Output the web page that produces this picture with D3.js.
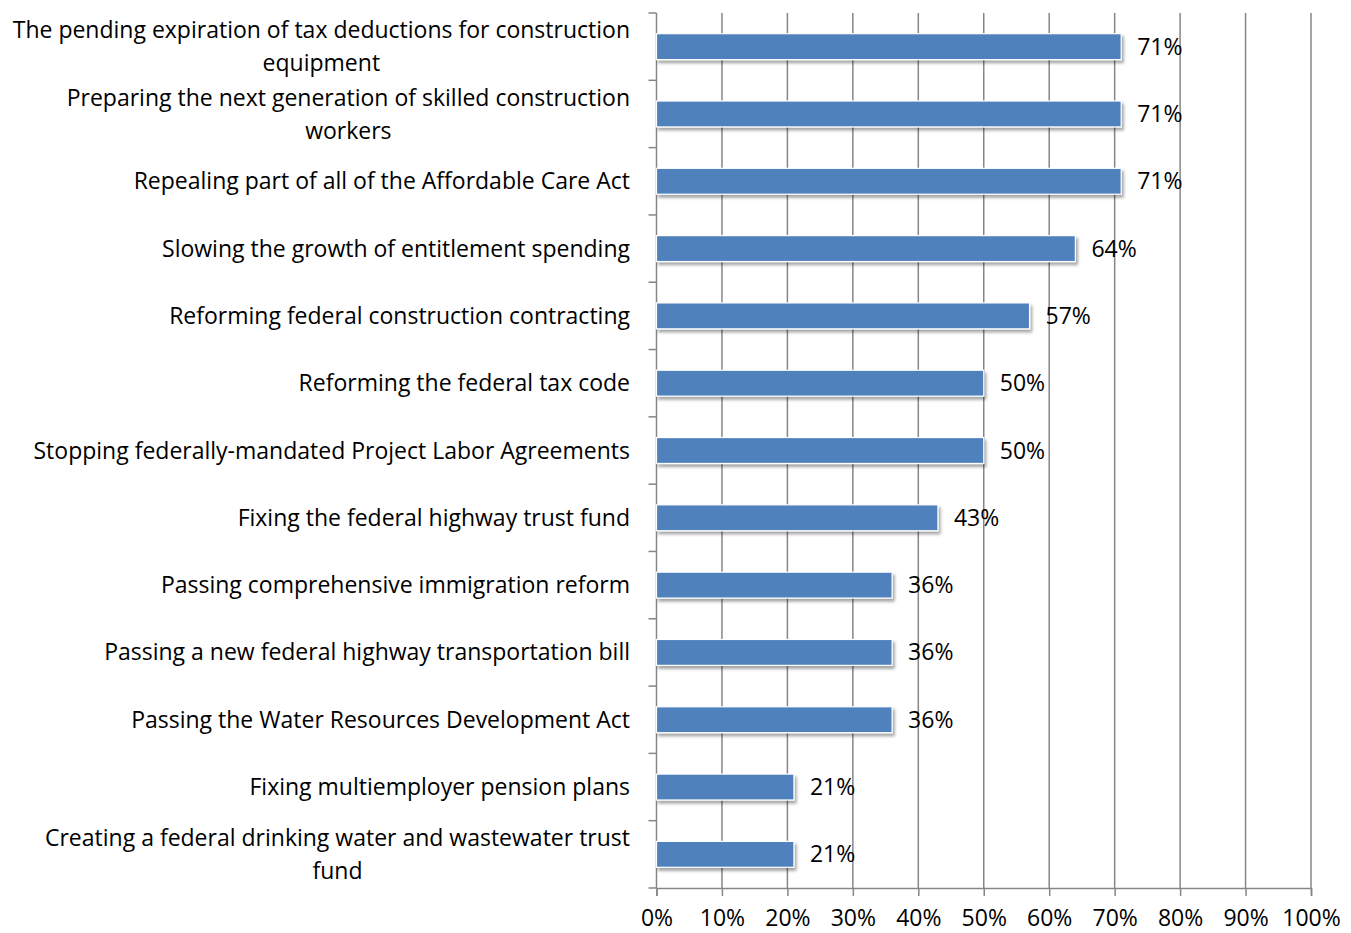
<!DOCTYPE html>
<html>
<head>
<meta charset="utf-8">
<script src="https://cdn.jsdelivr.net/npm/d3@7"></script>
<style>
  html, body { margin: 0; padding: 0; background: #fff; }
  svg { display: block; }
  text { font-family: "Open Sans", sans-serif; fill: #000; }
</style>
</head>
<body>
<svg id="chart" width="1351" height="933"></svg>
<script>
// Share of respondents naming each issue as a priority
const categories = [
  "The pending expiration of tax deductions for construction\nequipment",
  "Preparing the next generation of skilled construction\nworkers",
  "Repealing part of all of the Affordable Care Act",
  "Slowing the growth of entitlement spending",
  "Reforming federal construction contracting",
  "Reforming the federal tax code",
  "Stopping federally-mandated Project Labor Agreements",
  "Fixing the federal highway trust fund",
  "Passing comprehensive immigration reform",
  "Passing a new federal highway transportation bill",
  "Passing the Water Resources Development Act",
  "Fixing multiemployer pension plans",
  "Creating a federal drinking water and wastewater trust\nfund"
];
const values = [0.71, 0.71, 0.71, 0.64, 0.57, 0.50, 0.50, 0.43, 0.36, 0.36, 0.36, 0.21, 0.21];
const xTicks = [0, 0.1, 0.2, 0.3, 0.4, 0.5, 0.6, 0.7, 0.8, 0.9, 1.0];

const margin = { left: 656.5, right: 40, top: 13, bottom: 45 };
const W = 1351, H = 933;
const fontSize = 23;
const svg = d3.select("#chart");

const x = d3.scaleLinear().domain([0, 1]).range([margin.left, W - margin.right]);
const y = d3.scaleBand().domain(categories).range([margin.top, H - margin.bottom])
  .paddingInner(0.615).paddingOuter(0.3075);

const fmt = d3.format(".0%");
const gridColor = "#868686";

// Soft shadow under bars
const defs = svg.append("defs");
const f = defs.append("filter").attr("id", "shadow")
  .attr("x", "-5%").attr("y", "-30%").attr("width", "115%").attr("height", "180%");
f.append("feDropShadow").attr("dx", 2).attr("dy", 3).attr("stdDeviation", 1.8)
  .attr("flood-color", "#000").attr("flood-opacity", 0.35);

// Vertical gridlines
svg.append("g").selectAll("line").data(xTicks.slice(1)).join("line")
  .attr("x1", d => x(d)).attr("x2", d => x(d))
  .attr("y1", margin.top).attr("y2", H - margin.bottom)
  .attr("stroke", gridColor).attr("stroke-width", 1.5);

// X axis
const xAxis = d3.axisBottom(x).tickValues(xTicks).tickFormat(fmt).tickSize(8).tickPadding(13.5);
const gx = svg.append("g").attr("transform", `translate(0,${H - margin.bottom})`).call(xAxis);
gx.select(".domain").attr("stroke", gridColor).attr("stroke-width", 1.5);
gx.selectAll(".tick line").attr("stroke", gridColor).attr("stroke-width", 1.5);
gx.selectAll(".tick text").attr("font-size", fontSize).attr("font-family", "Open Sans, sans-serif").attr("fill", "#000");

// Y axis line and boundary ticks
const step = y.step();
const bounds = d3.range(categories.length + 1).map(i => margin.top + i * step);
svg.append("line").attr("x1", x(0)).attr("x2", x(0))
  .attr("y1", margin.top).attr("y2", H - margin.bottom)
  .attr("stroke", gridColor).attr("stroke-width", 1.5);
svg.append("g").selectAll("line").data(bounds).join("line")
  .attr("x1", x(0) - 8).attr("x2", x(0))
  .attr("y1", d => d).attr("y2", d => d)
  .attr("stroke", gridColor).attr("stroke-width", 1.5);

// Bars
svg.append("g").selectAll("rect").data(values).join("rect")
  .attr("x", x(0))
  .attr("y", (d, i) => y(categories[i]))
  .attr("width", d => x(d) - x(0))
  .attr("height", y.bandwidth())
  .attr("fill", "#4f81bd")
  .attr("stroke", "#fff").attr("stroke-width", 1.2)
  .attr("filter", "url(#shadow)");

// Value labels
svg.append("g").selectAll("text").data(values).join("text")
  .attr("x", d => x(d) + 16)
  .attr("y", (d, i) => y(categories[i]) + y.bandwidth() / 2)
  .attr("dy", "0.35em")
  .attr("font-size", fontSize)
  .text(d => fmt(d));

// Category labels, multi-line ones centred within a right-aligned block
const lineH = 33;
const labelRight = 630;
const lg = svg.append("g");
categories.forEach((c, i) => {
  const lines = c.split("\n");
  const cy = y(c) + y.bandwidth() / 2;
  const t = lg.append("text").attr("font-size", fontSize);
  const tspans = lines.map((ln, k) => t.append("tspan")
    .attr("y", cy + (k - (lines.length - 1) / 2) * lineH)
    .attr("dy", "0.35em").text(ln));
  const widths = tspans.map(s => s.node().getComputedTextLength());
  const maxW = d3.max(widths);
  tspans.forEach((s, k) => s.attr("x", labelRight - maxW / 2 - widths[k] / 2));
});
</script>
</body>
</html>
